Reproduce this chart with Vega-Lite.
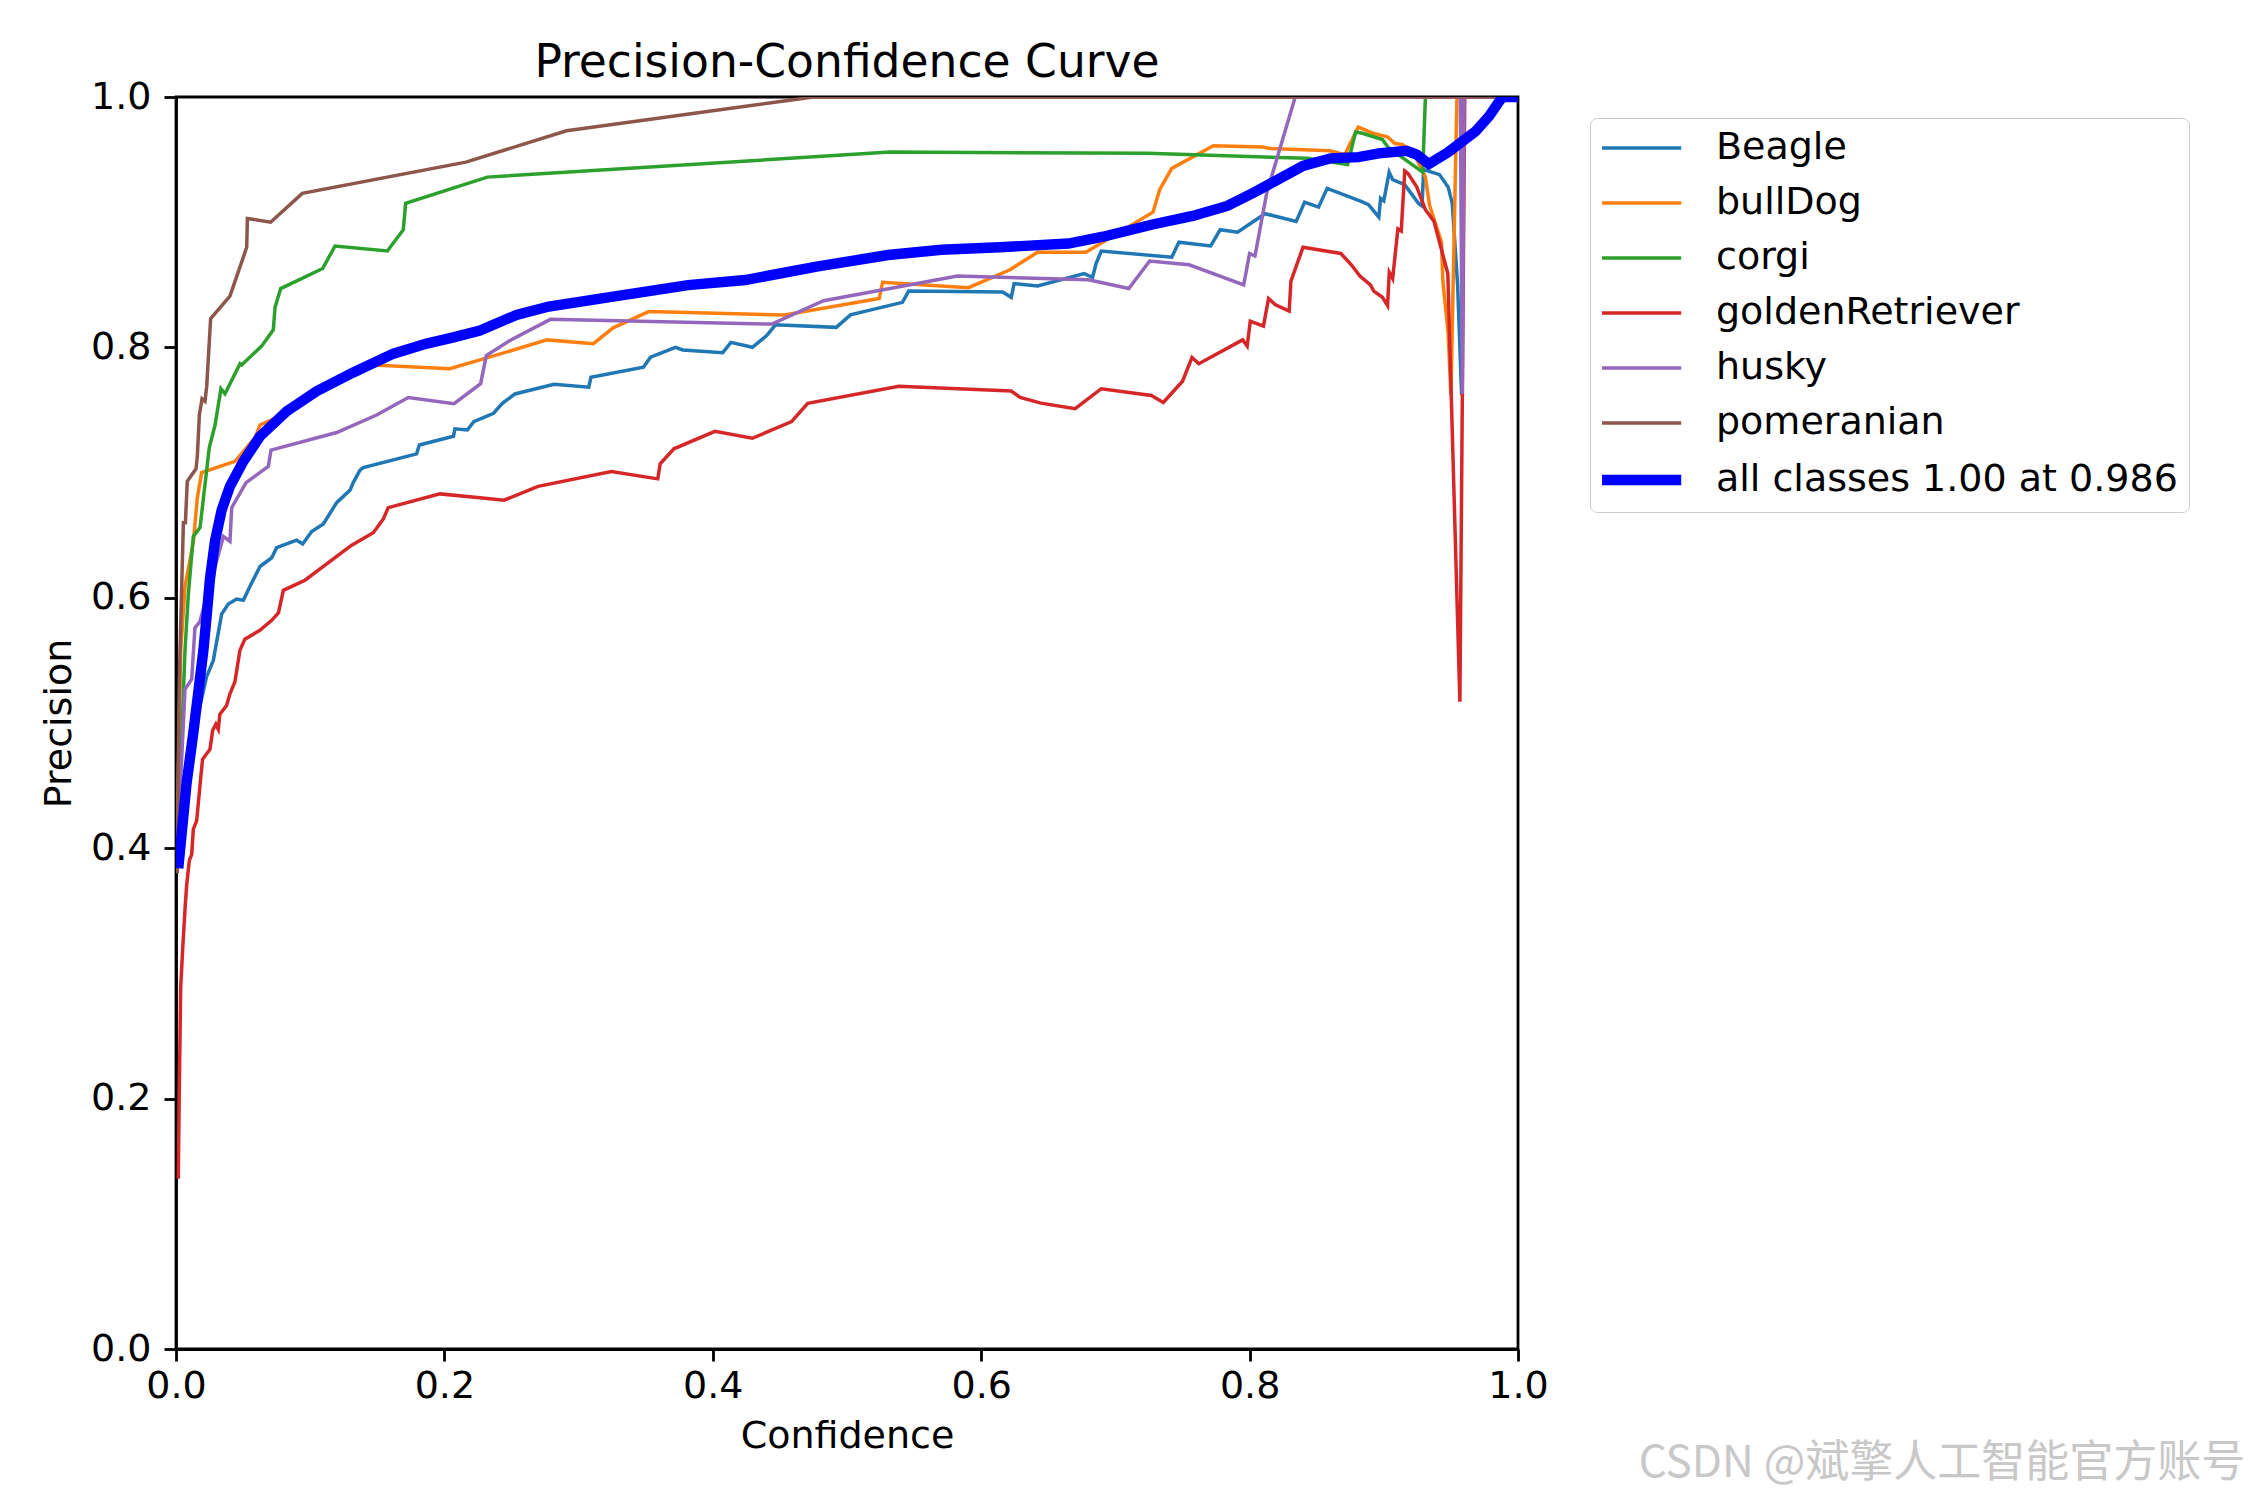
{
  "$schema": "https://vega.github.io/schema/vega-lite/v6.json",
  "autosize": {"type": "none"},
  "width": 1342,
  "height": 1252,
  "padding": {"left": 176, "top": 97, "right": 732, "bottom": 151},
  "background": "white",
  "title": {"text": "Precision-Confidence Curve", "fontSize": 45.6, "font": "DejaVu Sans", "fontWeight": "normal", "anchor": "middle", "offset": -9, "color": "black"},
  "datasets": {
    "curves": [
      {"cls":"Beagle","conf":0.001,"prec":0.40},{"cls":"Beagle","conf":0.008,"prec":0.45},{"cls":"Beagle","conf":0.015,"prec":0.50},{"cls":"Beagle","conf":0.0228,"prec":0.537},{"cls":"Beagle","conf":0.0278,"prec":0.55},{"cls":"Beagle","conf":0.034,"prec":0.587},{"cls":"Beagle","conf":0.039,"prec":0.595},{"cls":"Beagle","conf":0.0452,"prec":0.599},{"cls":"Beagle","conf":0.0502,"prec":0.598},{"cls":"Beagle","conf":0.0546,"prec":0.608},{"cls":"Beagle","conf":0.0626,"prec":0.625},{"cls":"Beagle","conf":0.0713,"prec":0.632},{"cls":"Beagle","conf":0.075,"prec":0.640},{"cls":"Beagle","conf":0.0899,"prec":0.646},{"cls":"Beagle","conf":0.0944,"prec":0.643},{"cls":"Beagle","conf":0.1011,"prec":0.653},{"cls":"Beagle","conf":0.1098,"prec":0.659},{"cls":"Beagle","conf":0.1197,"prec":0.676},{"cls":"Beagle","conf":0.1297,"prec":0.686},{"cls":"Beagle","conf":0.1321,"prec":0.692},{"cls":"Beagle","conf":0.1371,"prec":0.702},{"cls":"Beagle","conf":0.1396,"prec":0.704},{"cls":"Beagle","conf":0.1793,"prec":0.715},{"cls":"Beagle","conf":0.1813,"prec":0.722},{"cls":"Beagle","conf":0.2067,"prec":0.729},{"cls":"Beagle","conf":0.2079,"prec":0.735},{"cls":"Beagle","conf":0.2171,"prec":0.734},{"cls":"Beagle","conf":0.2219,"prec":0.7407},{"cls":"Beagle","conf":0.2366,"prec":0.7474},{"cls":"Beagle","conf":0.2432,"prec":0.7554},{"cls":"Beagle","conf":0.2525,"prec":0.7628},{"cls":"Beagle","conf":0.2817,"prec":0.7706},{"cls":"Beagle","conf":0.3076,"prec":0.7682},{"cls":"Beagle","conf":0.3092,"prec":0.7762},{"cls":"Beagle","conf":0.3483,"prec":0.7842},{"cls":"Beagle","conf":0.3536,"prec":0.7922},{"cls":"Beagle","conf":0.3722,"prec":0.800},{"cls":"Beagle","conf":0.3776,"prec":0.798},{"cls":"Beagle","conf":0.4074,"prec":0.7958},{"cls":"Beagle","conf":0.4135,"prec":0.804},{"cls":"Beagle","conf":0.4295,"prec":0.8001},{"cls":"Beagle","conf":0.44,"prec":0.8093},{"cls":"Beagle","conf":0.4467,"prec":0.818},{"cls":"Beagle","conf":0.492,"prec":0.816},{"cls":"Beagle","conf":0.5026,"prec":0.826},{"cls":"Beagle","conf":0.5413,"prec":0.836},{"cls":"Beagle","conf":0.546,"prec":0.845},{"cls":"Beagle","conf":0.616,"prec":0.8443},{"cls":"Beagle","conf":0.6224,"prec":0.840},{"cls":"Beagle","conf":0.6245,"prec":0.851},{"cls":"Beagle","conf":0.642,"prec":0.849},{"cls":"Beagle","conf":0.6767,"prec":0.859},{"cls":"Beagle","conf":0.683,"prec":0.856},{"cls":"Beagle","conf":0.6856,"prec":0.867},{"cls":"Beagle","conf":0.6895,"prec":0.877},{"cls":"Beagle","conf":0.742,"prec":0.872},{"cls":"Beagle","conf":0.7473,"prec":0.884},{"cls":"Beagle","conf":0.771,"prec":0.881},{"cls":"Beagle","conf":0.7781,"prec":0.894},{"cls":"Beagle","conf":0.791,"prec":0.892},{"cls":"Beagle","conf":0.8115,"prec":0.9068},{"cls":"Beagle","conf":0.8347,"prec":0.9006},{"cls":"Beagle","conf":0.841,"prec":0.916},{"cls":"Beagle","conf":0.8514,"prec":0.912},{"cls":"Beagle","conf":0.8578,"prec":0.927},{"cls":"Beagle","conf":0.8822,"prec":0.917},{"cls":"Beagle","conf":0.8886,"prec":0.914},{"cls":"Beagle","conf":0.8963,"prec":0.904},{"cls":"Beagle","conf":0.8976,"prec":0.919},{"cls":"Beagle","conf":0.900,"prec":0.917},{"cls":"Beagle","conf":0.904,"prec":0.940},{"cls":"Beagle","conf":0.9066,"prec":0.934},{"cls":"Beagle","conf":0.9156,"prec":0.930},{"cls":"Beagle","conf":0.9259,"prec":0.915},{"cls":"Beagle","conf":0.9285,"prec":0.913},{"cls":"Beagle","conf":0.9297,"prec":0.942},{"cls":"Beagle","conf":0.9415,"prec":0.938},{"cls":"Beagle","conf":0.948,"prec":0.928},{"cls":"Beagle","conf":0.951,"prec":0.915},{"cls":"Beagle","conf":0.955,"prec":0.85},{"cls":"Beagle","conf":0.958,"prec":0.762},{"cls":"Beagle","conf":0.9595,"prec":1.0},{"cls":"Beagle","conf":1.0,"prec":1.0},

      {"cls":"bullDog","conf":0.001,"prec":0.42},{"cls":"bullDog","conf":0.0035,"prec":0.558},{"cls":"bullDog","conf":0.0067,"prec":0.609},{"cls":"bullDog","conf":0.013,"prec":0.645},{"cls":"bullDog","conf":0.0159,"prec":0.680},{"cls":"bullDog","conf":0.0191,"prec":0.700},{"cls":"bullDog","conf":0.044,"prec":0.709},{"cls":"bullDog","conf":0.0589,"prec":0.728},{"cls":"bullDog","conf":0.0626,"prec":0.738},{"cls":"bullDog","conf":0.0812,"prec":0.747},{"cls":"bullDog","conf":0.0874,"prec":0.753},{"cls":"bullDog","conf":0.1023,"prec":0.765},{"cls":"bullDog","conf":0.147,"prec":0.786},{"cls":"bullDog","conf":0.204,"prec":0.783},{"cls":"bullDog","conf":0.2265,"prec":0.790},{"cls":"bullDog","conf":0.2765,"prec":0.806},{"cls":"bullDog","conf":0.311,"prec":0.803},{"cls":"bullDog","conf":0.3257,"prec":0.8156},{"cls":"bullDog","conf":0.3523,"prec":0.8286},{"cls":"bullDog","conf":0.4534,"prec":0.8259},{"cls":"bullDog","conf":0.524,"prec":0.839},{"cls":"bullDog","conf":0.5265,"prec":0.852},{"cls":"bullDog","conf":0.5905,"prec":0.8477},{"cls":"bullDog","conf":0.6214,"prec":0.862},{"cls":"bullDog","conf":0.642,"prec":0.876},{"cls":"bullDog","conf":0.678,"prec":0.876},{"cls":"bullDog","conf":0.728,"prec":0.908},{"cls":"bullDog","conf":0.733,"prec":0.926},{"cls":"bullDog","conf":0.742,"prec":0.943},{"cls":"bullDog","conf":0.773,"prec":0.961},{"cls":"bullDog","conf":0.810,"prec":0.960},{"cls":"bullDog","conf":0.814,"prec":0.959},{"cls":"bullDog","conf":0.860,"prec":0.957},{"cls":"bullDog","conf":0.871,"prec":0.954},{"cls":"bullDog","conf":0.881,"prec":0.976},{"cls":"bullDog","conf":0.892,"prec":0.971},{"cls":"bullDog","conf":0.903,"prec":0.968},{"cls":"bullDog","conf":0.908,"prec":0.963},{"cls":"bullDog","conf":0.914,"prec":0.962},{"cls":"bullDog","conf":0.922,"prec":0.956},{"cls":"bullDog","conf":0.931,"prec":0.936},{"cls":"bullDog","conf":0.934,"prec":0.914},{"cls":"bullDog","conf":0.943,"prec":0.884},{"cls":"bullDog","conf":0.944,"prec":0.853},{"cls":"bullDog","conf":0.948,"prec":0.811},{"cls":"bullDog","conf":0.950,"prec":0.762},{"cls":"bullDog","conf":0.9545,"prec":1.0},{"cls":"bullDog","conf":1.0,"prec":1.0},

      {"cls":"corgi","conf":0.001,"prec":0.40},{"cls":"corgi","conf":0.004,"prec":0.48},{"cls":"corgi","conf":0.0067,"prec":0.558},{"cls":"corgi","conf":0.0092,"prec":0.603},{"cls":"corgi","conf":0.0129,"prec":0.649},{"cls":"corgi","conf":0.0179,"prec":0.656},{"cls":"corgi","conf":0.0248,"prec":0.720},{"cls":"corgi","conf":0.0291,"prec":0.738},{"cls":"corgi","conf":0.0335,"prec":0.767},{"cls":"corgi","conf":0.0365,"prec":0.763},{"cls":"corgi","conf":0.0477,"prec":0.787},{"cls":"corgi","conf":0.0489,"prec":0.786},{"cls":"corgi","conf":0.0638,"prec":0.801},{"cls":"corgi","conf":0.0725,"prec":0.814},{"cls":"corgi","conf":0.0738,"prec":0.832},{"cls":"corgi","conf":0.078,"prec":0.847},{"cls":"corgi","conf":0.1093,"prec":0.863},{"cls":"corgi","conf":0.1185,"prec":0.881},{"cls":"corgi","conf":0.1575,"prec":0.877},{"cls":"corgi","conf":0.1694,"prec":0.894},{"cls":"corgi","conf":0.1711,"prec":0.915},{"cls":"corgi","conf":0.232,"prec":0.936},{"cls":"corgi","conf":0.532,"prec":0.956},{"cls":"corgi","conf":0.724,"prec":0.955},{"cls":"corgi","conf":0.843,"prec":0.951},{"cls":"corgi","conf":0.873,"prec":0.946},{"cls":"corgi","conf":0.879,"prec":0.972},{"cls":"corgi","conf":0.884,"prec":0.971},{"cls":"corgi","conf":0.899,"prec":0.966},{"cls":"corgi","conf":0.903,"prec":0.960},{"cls":"corgi","conf":0.929,"prec":0.940},{"cls":"corgi","conf":0.931,"prec":1.0},{"cls":"corgi","conf":1.0,"prec":1.0},

      {"cls":"goldenRetriever","conf":0.0017,"prec":0.136},{"cls":"goldenRetriever","conf":0.0025,"prec":0.211},{"cls":"goldenRetriever","conf":0.0035,"prec":0.289},{"cls":"goldenRetriever","conf":0.0050,"prec":0.320},{"cls":"goldenRetriever","conf":0.0067,"prec":0.351},{"cls":"goldenRetriever","conf":0.0079,"prec":0.370},{"cls":"goldenRetriever","conf":0.0099,"prec":0.390},{"cls":"goldenRetriever","conf":0.0117,"prec":0.395},{"cls":"goldenRetriever","conf":0.0129,"prec":0.415},{"cls":"goldenRetriever","conf":0.0154,"prec":0.422},{"cls":"goldenRetriever","conf":0.0183,"prec":0.455},{"cls":"goldenRetriever","conf":0.0198,"prec":0.471},{"cls":"goldenRetriever","conf":0.0253,"prec":0.479},{"cls":"goldenRetriever","conf":0.0273,"prec":0.494},{"cls":"goldenRetriever","conf":0.0297,"prec":0.499},{"cls":"goldenRetriever","conf":0.0315,"prec":0.495},{"cls":"goldenRetriever","conf":0.0327,"prec":0.507},{"cls":"goldenRetriever","conf":0.0377,"prec":0.514},{"cls":"goldenRetriever","conf":0.0401,"prec":0.523},{"cls":"goldenRetriever","conf":0.0439,"prec":0.533},{"cls":"goldenRetriever","conf":0.0476,"prec":0.558},{"cls":"goldenRetriever","conf":0.0513,"prec":0.567},{"cls":"goldenRetriever","conf":0.0625,"prec":0.574},{"cls":"goldenRetriever","conf":0.0713,"prec":0.582},{"cls":"goldenRetriever","conf":0.0763,"prec":0.588},{"cls":"goldenRetriever","conf":0.08,"prec":0.606},{"cls":"goldenRetriever","conf":0.0961,"prec":0.614},{"cls":"goldenRetriever","conf":0.1309,"prec":0.642},{"cls":"goldenRetriever","conf":0.147,"prec":0.652},{"cls":"goldenRetriever","conf":0.1545,"prec":0.663},{"cls":"goldenRetriever","conf":0.1582,"prec":0.672},{"cls":"goldenRetriever","conf":0.1967,"prec":0.683},{"cls":"goldenRetriever","conf":0.2265,"prec":0.680},{"cls":"goldenRetriever","conf":0.2445,"prec":0.678},{"cls":"goldenRetriever","conf":0.2698,"prec":0.689},{"cls":"goldenRetriever","conf":0.3244,"prec":0.7008},{"cls":"goldenRetriever","conf":0.359,"prec":0.695},{"cls":"goldenRetriever","conf":0.3608,"prec":0.707},{"cls":"goldenRetriever","conf":0.371,"prec":0.719},{"cls":"goldenRetriever","conf":0.4016,"prec":0.733},{"cls":"goldenRetriever","conf":0.4295,"prec":0.7274},{"cls":"goldenRetriever","conf":0.4587,"prec":0.7407},{"cls":"goldenRetriever","conf":0.4707,"prec":0.7554},{"cls":"goldenRetriever","conf":0.5386,"prec":0.769},{"cls":"goldenRetriever","conf":0.6224,"prec":0.7652},{"cls":"goldenRetriever","conf":0.629,"prec":0.760},{"cls":"goldenRetriever","conf":0.6445,"prec":0.7555},{"cls":"goldenRetriever","conf":0.670,"prec":0.751},{"cls":"goldenRetriever","conf":0.6895,"prec":0.767},{"cls":"goldenRetriever","conf":0.7268,"prec":0.7616},{"cls":"goldenRetriever","conf":0.7357,"prec":0.756},{"cls":"goldenRetriever","conf":0.75,"prec":0.773},{"cls":"goldenRetriever","conf":0.7571,"prec":0.792},{"cls":"goldenRetriever","conf":0.7622,"prec":0.787},{"cls":"goldenRetriever","conf":0.7948,"prec":0.806},{"cls":"goldenRetriever","conf":0.7982,"prec":0.801},{"cls":"goldenRetriever","conf":0.8005,"prec":0.821},{"cls":"goldenRetriever","conf":0.8103,"prec":0.817},{"cls":"goldenRetriever","conf":0.8141,"prec":0.839},{"cls":"goldenRetriever","conf":0.8193,"prec":0.834},{"cls":"goldenRetriever","conf":0.8295,"prec":0.829},{"cls":"goldenRetriever","conf":0.8308,"prec":0.853},{"cls":"goldenRetriever","conf":0.8398,"prec":0.880},{"cls":"goldenRetriever","conf":0.868,"prec":0.875},{"cls":"goldenRetriever","conf":0.8758,"prec":0.866},{"cls":"goldenRetriever","conf":0.8822,"prec":0.857},{"cls":"goldenRetriever","conf":0.89,"prec":0.850},{"cls":"goldenRetriever","conf":0.8925,"prec":0.845},{"cls":"goldenRetriever","conf":0.899,"prec":0.840},{"cls":"goldenRetriever","conf":0.9028,"prec":0.8334},{"cls":"goldenRetriever","conf":0.9041,"prec":0.860},{"cls":"goldenRetriever","conf":0.9066,"prec":0.855},{"cls":"goldenRetriever","conf":0.9105,"prec":0.8946},{"cls":"goldenRetriever","conf":0.913,"prec":0.893},{"cls":"goldenRetriever","conf":0.9156,"prec":0.941},{"cls":"goldenRetriever","conf":0.918,"prec":0.939},{"cls":"goldenRetriever","conf":0.9246,"prec":0.928},{"cls":"goldenRetriever","conf":0.931,"prec":0.910},{"cls":"goldenRetriever","conf":0.9374,"prec":0.9007},{"cls":"goldenRetriever","conf":0.9477,"prec":0.859},{"cls":"goldenRetriever","conf":0.9567,"prec":0.517},{"cls":"goldenRetriever","conf":0.9603,"prec":1.0},{"cls":"goldenRetriever","conf":1.0,"prec":1.0},

      {"cls":"husky","conf":0.001,"prec":0.40},{"cls":"husky","conf":0.0042,"prec":0.471},{"cls":"husky","conf":0.0067,"prec":0.527},{"cls":"husky","conf":0.0117,"prec":0.535},{"cls":"husky","conf":0.0141,"prec":0.576},{"cls":"husky","conf":0.0178,"prec":0.581},{"cls":"husky","conf":0.0353,"prec":0.649},{"cls":"husky","conf":0.0402,"prec":0.645},{"cls":"husky","conf":0.0415,"prec":0.672},{"cls":"husky","conf":0.0522,"prec":0.692},{"cls":"husky","conf":0.0688,"prec":0.705},{"cls":"husky","conf":0.0708,"prec":0.718},{"cls":"husky","conf":0.1197,"prec":0.732},{"cls":"husky","conf":0.1495,"prec":0.746},{"cls":"husky","conf":0.1731,"prec":0.760},{"cls":"husky","conf":0.2072,"prec":0.755},{"cls":"husky","conf":0.227,"prec":0.771},{"cls":"husky","conf":0.2312,"prec":0.7935},{"cls":"husky","conf":0.2485,"prec":0.8053},{"cls":"husky","conf":0.279,"prec":0.8224},{"cls":"husky","conf":0.444,"prec":0.8186},{"cls":"husky","conf":0.4825,"prec":0.8373},{"cls":"husky","conf":0.5823,"prec":0.857},{"cls":"husky","conf":0.680,"prec":0.854},{"cls":"husky","conf":0.710,"prec":0.847},{"cls":"husky","conf":0.7255,"prec":0.869},{"cls":"husky","conf":0.755,"prec":0.866},{"cls":"husky","conf":0.7956,"prec":0.850},{"cls":"husky","conf":0.800,"prec":0.875},{"cls":"husky","conf":0.804,"prec":0.873},{"cls":"husky","conf":0.8128,"prec":0.9236},{"cls":"husky","conf":0.834,"prec":1.0},{"cls":"husky","conf":0.957,"prec":1.0},{"cls":"husky","conf":0.9585,"prec":0.763},{"cls":"husky","conf":0.9598,"prec":1.0},{"cls":"husky","conf":1.0,"prec":1.0},

      {"cls":"pomeranian","conf":0.001,"prec":0.38},{"cls":"pomeranian","conf":0.002,"prec":0.50},{"cls":"pomeranian","conf":0.003,"prec":0.558},{"cls":"pomeranian","conf":0.0055,"prec":0.66},{"cls":"pomeranian","conf":0.007,"prec":0.66},{"cls":"pomeranian","conf":0.0084,"prec":0.693},{"cls":"pomeranian","conf":0.0149,"prec":0.703},{"cls":"pomeranian","conf":0.0159,"prec":0.713},{"cls":"pomeranian","conf":0.0174,"prec":0.746},{"cls":"pomeranian","conf":0.0194,"prec":0.759},{"cls":"pomeranian","conf":0.0216,"prec":0.757},{"cls":"pomeranian","conf":0.0229,"prec":0.769},{"cls":"pomeranian","conf":0.0258,"prec":0.823},{"cls":"pomeranian","conf":0.0402,"prec":0.841},{"cls":"pomeranian","conf":0.0527,"prec":0.880},{"cls":"pomeranian","conf":0.0532,"prec":0.903},{"cls":"pomeranian","conf":0.0705,"prec":0.900},{"cls":"pomeranian","conf":0.0941,"prec":0.923},{"cls":"pomeranian","conf":0.216,"prec":0.948},{"cls":"pomeranian","conf":0.291,"prec":0.973},{"cls":"pomeranian","conf":0.475,"prec":1.0},{"cls":"pomeranian","conf":1.0,"prec":1.0},

      {"cls":"all classes 1.00 at 0.986","conf":0.0017,"prec":0.384},{"cls":"all classes 1.00 at 0.986","conf":0.0079,"prec":0.452},{"cls":"all classes 1.00 at 0.986","conf":0.0129,"prec":0.492},{"cls":"all classes 1.00 at 0.986","conf":0.0178,"prec":0.535},{"cls":"all classes 1.00 at 0.986","conf":0.0204,"prec":0.558},{"cls":"all classes 1.00 at 0.986","conf":0.0228,"prec":0.585},{"cls":"all classes 1.00 at 0.986","conf":0.0253,"prec":0.615},{"cls":"all classes 1.00 at 0.986","conf":0.029,"prec":0.645},{"cls":"all classes 1.00 at 0.986","conf":0.034,"prec":0.670},{"cls":"all classes 1.00 at 0.986","conf":0.0402,"prec":0.689},{"cls":"all classes 1.00 at 0.986","conf":0.0502,"prec":0.709},{"cls":"all classes 1.00 at 0.986","conf":0.0626,"prec":0.729},{"cls":"all classes 1.00 at 0.986","conf":0.0825,"prec":0.749},{"cls":"all classes 1.00 at 0.986","conf":0.1048,"prec":0.765},{"cls":"all classes 1.00 at 0.986","conf":0.1321,"prec":0.780},{"cls":"all classes 1.00 at 0.986","conf":0.162,"prec":0.795},{"cls":"all classes 1.00 at 0.986","conf":0.1868,"prec":0.803},{"cls":"all classes 1.00 at 0.986","conf":0.2067,"prec":0.808},{"cls":"all classes 1.00 at 0.986","conf":0.2265,"prec":0.8135},{"cls":"all classes 1.00 at 0.986","conf":0.2537,"prec":0.8259},{"cls":"all classes 1.00 at 0.986","conf":0.2778,"prec":0.8326},{"cls":"all classes 1.00 at 0.986","conf":0.3257,"prec":0.8405},{"cls":"all classes 1.00 at 0.986","conf":0.3816,"prec":0.8498},{"cls":"all classes 1.00 at 0.986","conf":0.4241,"prec":0.8538},{"cls":"all classes 1.00 at 0.986","conf":0.4773,"prec":0.8645},{"cls":"all classes 1.00 at 0.986","conf":0.5306,"prec":0.8738},{"cls":"all classes 1.00 at 0.986","conf":0.5704,"prec":0.878},{"cls":"all classes 1.00 at 0.986","conf":0.6137,"prec":0.880},{"cls":"all classes 1.00 at 0.986","conf":0.665,"prec":0.883},{"cls":"all classes 1.00 at 0.986","conf":0.6908,"prec":0.8884},{"cls":"all classes 1.00 at 0.986","conf":0.7268,"prec":0.898},{"cls":"all classes 1.00 at 0.986","conf":0.7576,"prec":0.905},{"cls":"all classes 1.00 at 0.986","conf":0.7833,"prec":0.913},{"cls":"all classes 1.00 at 0.986","conf":0.8038,"prec":0.924},{"cls":"all classes 1.00 at 0.986","conf":0.8193,"prec":0.933},{"cls":"all classes 1.00 at 0.986","conf":0.8398,"prec":0.945},{"cls":"all classes 1.00 at 0.986","conf":0.8604,"prec":0.951},{"cls":"all classes 1.00 at 0.986","conf":0.881,"prec":0.952},{"cls":"all classes 1.00 at 0.986","conf":0.8963,"prec":0.955},{"cls":"all classes 1.00 at 0.986","conf":0.917,"prec":0.957},{"cls":"all classes 1.00 at 0.986","conf":0.9246,"prec":0.954},{"cls":"all classes 1.00 at 0.986","conf":0.9336,"prec":0.9465},{"cls":"all classes 1.00 at 0.986","conf":0.9477,"prec":0.9557},{"cls":"all classes 1.00 at 0.986","conf":0.9683,"prec":0.9725},{"cls":"all classes 1.00 at 0.986","conf":0.9785,"prec":0.9847},{"cls":"all classes 1.00 at 0.986","conf":0.9863,"prec":0.997},{"cls":"all classes 1.00 at 0.986","conf":0.989,"prec":1.0},{"cls":"all classes 1.00 at 0.986","conf":1.0,"prec":1.0}
    ],
    "watermark": [{"t": "CSDN @斌擎人工智能官方账号"}]
  },
  "layer": [
    {
      "data": {"name": "curves"},
      "transform": [{"filter": "datum.cls !== 'all classes 1.00 at 0.986'"}],
      "mark": {"type": "line", "clip": true, "strokeWidth": 3.5},
      "encoding": {
        "x": {"field": "conf", "type": "quantitative", "title": "Confidence", "scale": {"domain": [0, 1], "nice": false, "zero": false}, "axis": {"values": [0, 0.2, 0.4, 0.6, 0.8, 1.0], "format": ".1f"}},
        "y": {"field": "prec", "type": "quantitative", "title": "Precision", "scale": {"domain": [0, 1], "nice": false, "zero": false}, "axis": {"values": [0, 0.2, 0.4, 0.6, 0.8, 1.0], "format": ".1f"}},
        "color": {"field": "cls", "type": "nominal", "title": null,
          "scale": {"domain": ["Beagle", "bullDog", "corgi", "goldenRetriever", "husky", "pomeranian", "all classes 1.00 at 0.986"], "range": ["#1f77b4", "#ff7f0e", "#2ca02c", "#d62728", "#9467bd", "#8c564b", "#0000ff"]},
          "legend": {"symbolType": "M-1,0H3.4", "encode": {"symbols": {"update": {"strokeWidth": {"signal": "datum.value === 'all classes 1.00 at 0.986' ? 10.4 : 3.5"}}}}}}
      }
    },
    {
      "data": {"name": "curves"},
      "transform": [{"filter": "datum.cls === 'all classes 1.00 at 0.986'"}],
      "mark": {"type": "line", "clip": true, "strokeWidth": 10.4},
      "encoding": {
        "x": {"field": "conf", "type": "quantitative", "title": "Confidence"},
        "y": {"field": "prec", "type": "quantitative", "title": "Precision"},
        "color": {"field": "cls", "type": "nominal", "title": null}
      }
    },
    {
      "data": {"name": "watermark"},
      "mark": {"type": "text", "align": "right", "baseline": "middle", "font": "Noto Sans CJK SC", "fontSize": 44, "color": "#c8c8c8", "clip": false},
      "encoding": {
        "x": {"datum": 1.542, "type": "quantitative", "title": "Confidence"},
        "y": {"datum": -0.092, "type": "quantitative", "title": "Precision"},
        "text": {"field": "t"}
      }
    }
  ],
  "config": {
    "view": {"stroke": "black", "strokeWidth": 2.8},
    "axis": {"domainColor": "black", "domainWidth": 2.8, "tickColor": "black", "tickWidth": 2.8, "tickSize": 12, "labelFontSize": 38, "labelFont": "DejaVu Sans", "labelColor": "black", "titleFontSize": 38, "titleFont": "DejaVu Sans", "titleFontWeight": "normal", "titleColor": "black", "grid": false, "labelPadding": 13, "titlePadding": 12, "labelFlush": false},
    "axisX": {"labelPadding": 6},
    "legend": {"orient": "none", "legendX": 1414, "legendY": 21, "labelFontSize": 38, "labelFont": "DejaVu Sans", "labelColor": "black", "padding": 11, "strokeColor": "#cccccc", "fillColor": "white", "cornerRadius": 7, "symbolSize": 1296, "rowPadding": 17, "labelOffset": 77, "labelLimit": 800}
  }
}
